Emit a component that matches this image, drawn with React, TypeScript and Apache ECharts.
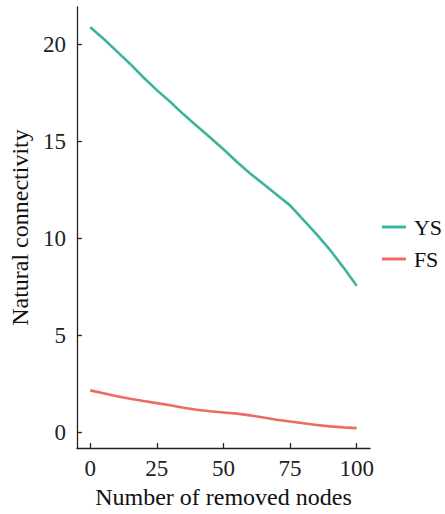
import React, { useEffect, useRef } from "react";
import * as echarts from "echarts";

const xValues = [0, 5, 10, 15, 20, 25, 30, 35, 40, 45, 50, 55, 60, 65, 70, 75, 80, 85, 90, 95, 100];
const ysValues = [20.9, 20.3, 19.65, 19.0, 18.3, 17.65, 17.05, 16.4, 15.8, 15.2, 14.6, 13.95, 13.35, 12.8, 12.25, 11.7, 10.95, 10.2, 9.4, 8.5, 7.55];
const fsValues = [2.15, 2.0, 1.85, 1.72, 1.6, 1.49, 1.38, 1.25, 1.15, 1.07, 1.01, 0.95, 0.86, 0.75, 0.63, 0.54, 0.45, 0.36, 0.29, 0.24, 0.2];
const xTicks = [0, 25, 50, 75, 100];
const yTicks = [0, 5, 10, 15, 20];
const seriesNames = ["YS", "FS"];
const xTitle = "Number of removed nodes";
const yTitle = "Natural connectivity";

const FONT = "'Liberation Serif', 'Times New Roman', serif";

export default function App() {
  const ref = useRef<HTMLDivElement>(null);
  useEffect(() => {
    if (!ref.current) return;
    const chart = echarts.init(ref.current, null, { renderer: "svg" });
    const axisCommon = {
      axisLine: { show: true, onZero: false, lineStyle: { color: "#222", width: 1.3 } },
      axisTick: { show: true, inside: true, length: 5, lineStyle: { color: "#222", width: 1.3 } },
      splitLine: { show: false },
      axisLabel: { color: "#222", fontFamily: FONT, fontSize: 23 },
      nameTextStyle: { color: "#111", fontFamily: FONT, fontSize: 24 },
      nameLocation: "middle" as const,
    };
    chart.setOption({
      animation: false,
      textStyle: { fontFamily: FONT },
      grid: { left: 75, right: 75, top: 7, bottom: 61, containLabel: false },
      legend: {
        orient: "vertical",
        right: 3,
        top: 216,
        padding: 0,
        itemWidth: 24,
        itemHeight: 14,
        itemGap: 10,
        textStyle: { color: "#111", fontFamily: FONT, fontSize: 22, padding: [0, 0, 0, 3], overflow: "none" },
        data: seriesNames.map((n) => ({ name: n, icon: "path://M0,6 L24,6 L24,9 L0,9 Z" })),
      },
      xAxis: {
        type: "value",
        min: -5,
        max: 105,
        interval: 25,
        ...axisCommon,
        axisLabel: {
          ...axisCommon.axisLabel,
          margin: 9,
          customValues: xTicks,
        },
        axisTick: { ...axisCommon.axisTick, customValues: xTicks },
        name: xTitle,
        nameGap: 33,
      },
      yAxis: {
        type: "value",
        min: -0.83,
        max: 21.94,
        ...axisCommon,
        axisLabel: {
          ...axisCommon.axisLabel,
          margin: 11,
          customValues: yTicks,
        },
        axisTick: { ...axisCommon.axisTick, customValues: yTicks },
        name: yTitle,
        nameGap: 36,
      },
      series: [
        {
          name: seriesNames[0],
          type: "line",
          data: xValues.map((x, i) => [x, ysValues[i]]),
          showSymbol: false,
          symbol: "none",
          lineStyle: { color: "#3DB39E", width: 2.6 },
          itemStyle: { color: "#3DB39E" },
        },
        {
          name: seriesNames[1],
          type: "line",
          data: xValues.map((x, i) => [x, fsValues[i]]),
          showSymbol: false,
          symbol: "none",
          lineStyle: { color: "#EE6B63", width: 2.6 },
          itemStyle: { color: "#EE6B63" },
        },
      ],
    });
    return () => chart.dispose();
  }, []);
  return (
    <div
      ref={ref}
      style={{ position: "absolute", left: 0, top: 0, width: 445, height: 514, background: "#fff" }}
    />
  );
}
